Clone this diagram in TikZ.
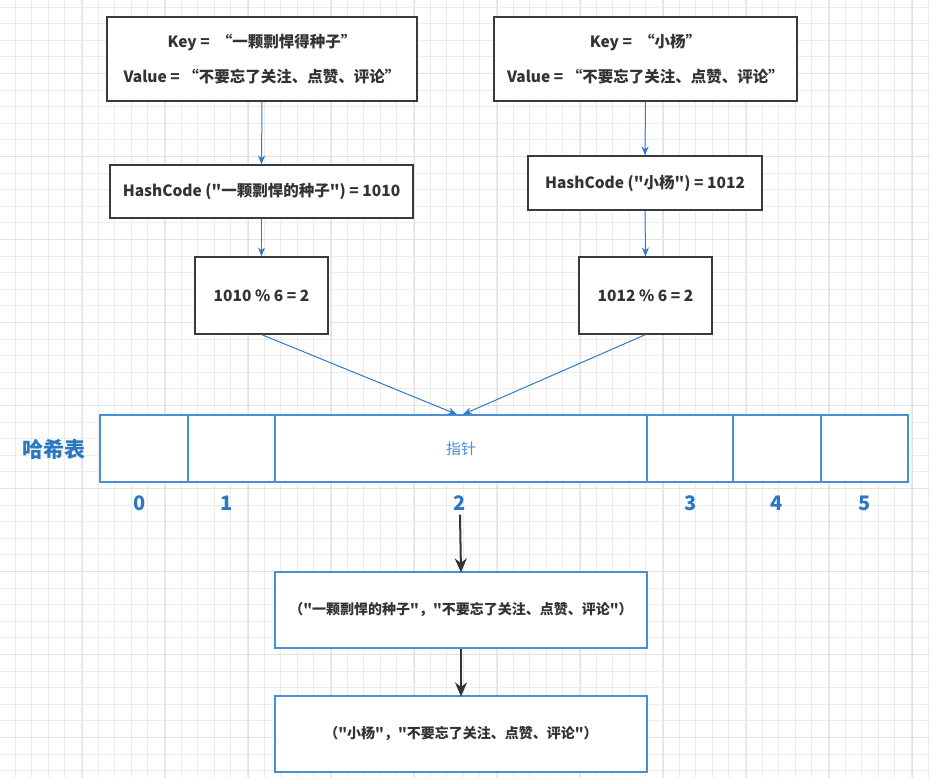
\documentclass[tikz,border=0pt]{standalone}
\usepackage{fontspec}
\setmainfont{Noto Sans CJK SC}[Ligatures=TeXOff]
\usetikzlibrary{arrows.meta}
\definecolor{txtgray}{HTML}{333333}
\definecolor{boxgray}{HTML}{3A3A3A}
\definecolor{tblue}{HTML}{4A8FD4}
\definecolor{ablue}{HTML}{2F7BCB}
\definecolor{lblue}{HTML}{2A78C4}
\definecolor{gridc}{HTML}{ECECEC}
\definecolor{gridm}{HTML}{E2E2E2}
\tikzset{
  graybox/.style={draw=boxgray, line width=1.2pt, fill=white, inner sep=0pt,
    text=txtgray, font=\fontsize{15.5}{35}\selectfont\bfseries, align=center},
  bluebox/.style={draw=tblue, line width=1.2pt, fill=white, inner sep=0pt,
    text=txtgray, font=\fontsize{14}{16}\selectfont\bfseries, align=center},
  cell/.style={draw=tblue, line width=1.2pt, fill=white, inner sep=0pt, minimum height=67pt},
  idx/.style={text=lblue, font=\fontsize{20}{22}\selectfont\bfseries, inner sep=1pt},
  bluearrow/.style={draw=ablue, line width=1pt, -{Stealth[length=9pt,width=7pt]}},
  blackarrow/.style={draw=txtgray, line width=2pt, -{Stealth[length=14pt,width=12pt]}},
}
\begin{document}
\begin{tikzpicture}[x=1pt,y=-1pt]
\useasboundingbox (0,0) rectangle (930,778);
\fill[white] (0,0) rectangle (930,778);
% grid
\foreach \i in {0,...,56} {
  \pgfmathsetmacro\gx{15+16.6*\i}
  \draw[gridc, line width=0.8pt] (\gx,0) -- (\gx,778);
}
\foreach \i in {0,...,47} {
  \pgfmathsetmacro\gy{7+16.6*\i}
  \draw[gridc, line width=0.8pt] (0,\gy) -- (930,\gy);
}
\foreach \i in {0,...,11} {
  \pgfmathsetmacro\gx{82+83*\i}
  \draw[gridm, line width=0.8pt] (\gx,0) -- (\gx,778);
}
\foreach \i in {0,...,9} {
  \pgfmathsetmacro\gy{73.4+83*\i}
  \draw[gridm, line width=0.8pt] (0,\gy) -- (930,\gy);
}

% top boxes
\node[graybox, minimum width=310pt, minimum height=84pt] (kv1) at (262,59)
  {\raisebox{-2pt}{Key =\ \ “一颗剽悍得种子”}\\\raisebox{-2pt}{Value = “不要忘了关注、点赞、评论”}};
\node[graybox, minimum width=303pt, minimum height=84pt] (kv2) at (645.5,59)
  {\raisebox{-2pt}{Key =\ \ “小杨”}\\\raisebox{-2pt}{Value = “不要忘了关注、点赞、评论”}};

\node[graybox, minimum width=303pt, minimum height=53pt] (hc1) at (261.5,191.5)
  {HashCode ("一颗剽悍的种子") = 1010};
\node[graybox, minimum width=234pt, minimum height=54pt] (hc2) at (645,183)
  {HashCode ("小杨") = 1012};

\node[graybox, minimum width=133pt, minimum height=77pt] (m1) at (261.5,295.5)
  {1010 \% 6 = 2};
\node[graybox, minimum width=133pt, minimum height=77pt] (m2) at (645.5,295.5)
  {1012 \% 6 = 2};

% hash table
\node[cell, minimum width=88pt] (c0) at (144,448.5) {};
\node[cell, minimum width=87pt] (c1) at (231.5,448.5) {};
\node[cell, minimum width=372pt, text=tblue, font=\fontsize{15}{17}\selectfont] (c2) at (461,448.5) {指针};
\node[cell, minimum width=86pt] (c3) at (690,448.5) {};
\node[cell, minimum width=88pt] (c4) at (777,448.5) {};
\node[cell, minimum width=87pt] (c5) at (864.5,448.5) {};

\node[text=lblue, font=\fontsize{21}{23}\selectfont\bfseries] (hlabel) at (54,449) {哈希表};

\node[idx] (n0) at (140,503) {0};
\node[idx] (n1) at (227,503) {1};
\node[idx] (n2) at (460,503) {2};
\node[idx] (n3) at (691,503) {3};
\node[idx] (n4) at (777,503) {4};
\node[idx] (n5) at (865,503) {5};

% bottom boxes
\node[bluebox, minimum width=372pt, minimum height=76pt] (ba) at (461,610)
  {（"一颗剽悍的种子"，"不要忘了关注、点赞、评论"）};
\node[bluebox, minimum width=372pt, minimum height=76pt] (bb) at (461,734)
  {（"小杨"，"不要忘了关注、点赞、评论"）};

% arrows
\draw[bluearrow] (kv1.south) -- (hc1.north);
\draw[bluearrow] (hc1.south) -- (m1.north);
\draw[bluearrow] (kv2.south) -- (hc2.north);
\draw[bluearrow] (hc2.south) -- (m2.north);
\coordinate (t1) at ([xshift=-4pt]c2.north);
\coordinate (t2) at ([xshift=2pt]c2.north);
\draw[bluearrow] (m1.south) -- (t1);
\draw[bluearrow] (m2.south) -- (t2);
\draw[blackarrow] ([yshift=-3pt]n2.south) -- ([yshift=-1pt]ba.north);
\draw[blackarrow] (ba.south) -- ([yshift=-1pt]bb.north);
\end{tikzpicture}
\end{document}
